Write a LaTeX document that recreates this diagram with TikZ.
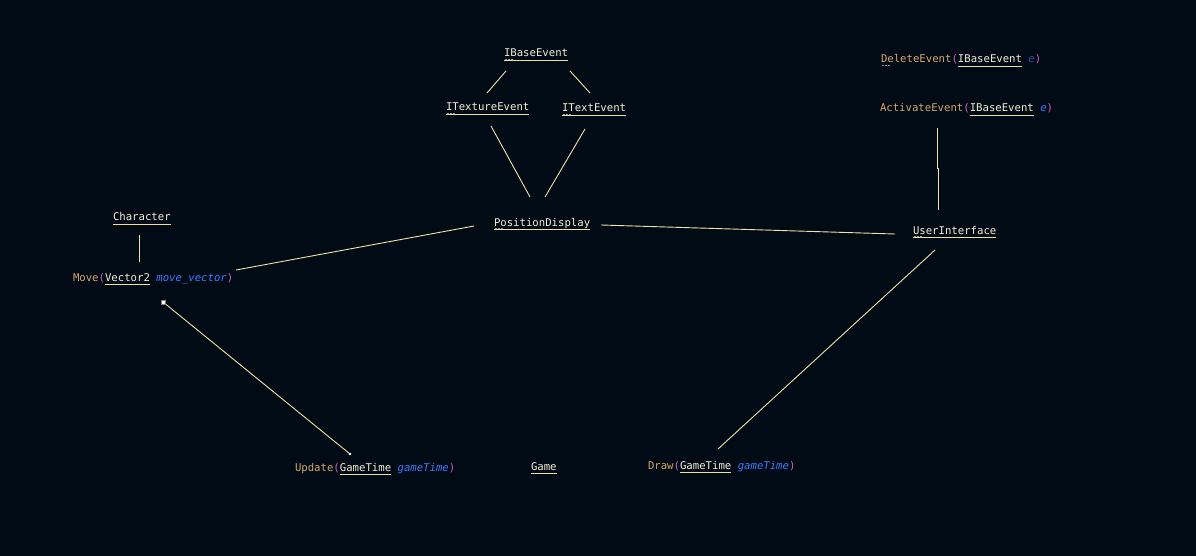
\documentclass[tikz,border=0pt]{standalone}
\usepackage{fontspec}
\setmonofont{DejaVu Sans Mono}
\definecolor{bg}{HTML}{010B16}
\definecolor{tycol}{HTML}{F4EED4}
\definecolor{ulcol}{HTML}{F3DE9C}
\definecolor{mcol}{HTML}{D6A66C}
\definecolor{pcol}{HTML}{D85ABE}
\definecolor{acol}{HTML}{3B7BFF}
\definecolor{adim}{HTML}{3050A8}
\definecolor{lcol}{HTML}{EFE3A8}
\definecolor{hcol}{HTML}{9A9A9A}
\newcommand\tyul[1]{\setbox0\hbox{\color{tycol}#1}\rlap{\color{ulcol}\rule[-4.2pt]{\wd0}{0.9pt}}\box0\relax}
\newcommand\mth[1]{{\color{mcol}#1}}
\newcommand\prn[1]{{\color{pcol}#1}}
\newcommand\parg[2][acol]{{\color{#1}\itshape #2}}
\begin{document}
\begin{tikzpicture}[x=1pt,y=-1pt,
  lbl/.style={anchor=base west,inner sep=0pt,outer sep=0pt,font=\ttfamily\fontsize{10.65}{12}\selectfont,text=tycol},
  conn/.style={draw=lcol,line width=0.9pt},
  hint/.style={draw=hcol,line width=1.2pt,dash pattern=on 2pt off 1pt}]
\fill[bg] (0,0) rectangle (1196,556);
\useasboundingbox (0,0) rectangle (1196,556);
% nodes
\node[lbl] (ibase) at (504,57) {\tyul{IBaseEvent}};
\node[lbl] (itex) at (446,111) {\tyul{ITextureEvent}};
\node[lbl] (itext) at (562,112) {\tyul{ITextEvent}};
\node[lbl] (pos) at (494,226) {\tyul{PositionDisplay}};
\node[lbl] (ui) at (913,234) {\tyul{UserInterface}};
\node[lbl] (del) at (881,63) {\mth{DeleteEvent}\prn{(}\tyul{IBaseEvent} \parg[adim]{e}\prn{)}};
\node[lbl] (act) at (880,112) {\mth{ActivateEvent}\prn{(}\tyul{IBaseEvent} \parg{e}\prn{)}};
\node[lbl] (chr) at (113,221) {\tyul{Character}};
\node[lbl] (move) at (73,281) {\mth{Move}\prn{(}\tyul{Vector2} \parg{move\_vector}\prn{)}};
\node[lbl] (upd) at (295,471) {\mth{Update}\prn{(}\tyul{GameTime} \parg{gameTime}\prn{)}};
\node[lbl] (game) at (531,470) {\tyul{Game}};
\node[lbl] (draw) at (648,469) {\mth{Draw}\prn{(}\tyul{GameTime} \parg{gameTime}\prn{)}};
% hint dots
\foreach \n in {ibase,itex,itext,pos,ui,del}
  \draw[hint] ([shift={(0.5,2.6)}]\n.base west) -- ++(8,0);
% connectors
\draw[conn] ([shift={(2,14)}]ibase.base west) -- ([shift={(41,-18)}]itex.base west);
\draw[conn] ([shift={(66,14)}]ibase.base west) -- ([shift={(28,-19)}]itext.base west);
\draw[conn] ([shift={(45,15)}]itex.base west) -- ([shift={(36,-29)}]pos.base west);
\draw[conn] ([shift={(23,17)}]itext.base west) -- ([shift={(51,-29)}]pos.base west);
\draw[conn] ([shift={(-20,0)}]pos.base west) -- ([shift={(163,-11)}]move.base west);
\draw[conn] ([shift={(107,-1)}]pos.base west) -- ([shift={(-18,0)}]ui.base west);
\draw[conn] ([shift={(57,16)}]act.base west) -- ++(0,40.5) -- ++(1,0) -- ([shift={(25,-24)}]ui.base west);
\draw[conn] ([shift={(26,14)}]chr.base west) -- ([shift={(66,-19)}]move.base west);
\draw[conn] ([shift={(90,21)}]move.base west) -- ([shift={(55,-17)}]upd.base west);
\draw[conn] ([shift={(22,16)}]ui.base west) -- ([shift={(70,-20)}]draw.base west);
% end markers of move -- update
\filldraw[fill=white,draw=gray,line width=0.6pt] ([shift={(88,19)}]move.base west) rectangle ++(4,4);
\fill[white] ([shift={(55,-17)}]upd.base west) circle (1.3);
\end{tikzpicture}
\end{document}
